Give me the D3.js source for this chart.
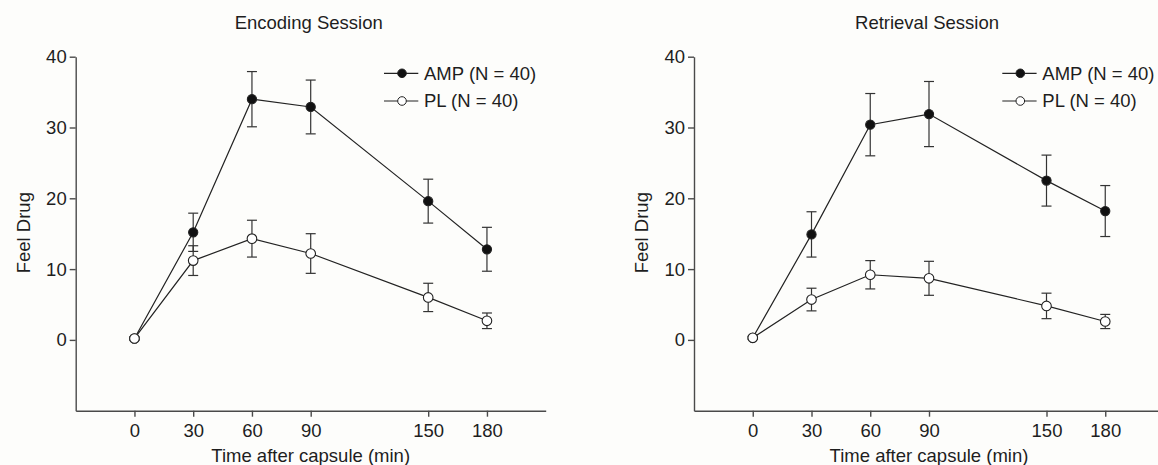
<html>
<head>
    <script src="https://d3js.org/d3.v7.min.js"></script>
    <style>
        html,body{
            margin: 0px;
            padding: 0px;
            background-color: #fdfdfb;
        }
        text {
            font-family: "Liberation Sans", Arial, sans-serif;
            fill: #1e1e1e;
        }
    </style>
</head>
<body>
    <div id="chart"></div>
    <script>
        // values (mean and SEM per time point)
        const times = [0, 30, 60, 90, 150, 180];
        const xTicks = [0, 30, 60, 90, 150, 180];
        const yTicks = [0, 10, 20, 30, 40];
        const panelTitles = ["Encoding Session", "Retrieval Session"];
        const seriesNames = ["AMP (N = 40)", "PL (N = 40)"];

        const encAmpMean = [0.2, 15.2, 34.0, 32.9, 19.6, 12.8];
        const encAmpSem  = [0.2, 2.7, 3.9, 3.8, 3.1, 3.1];
        const encPlMean  = [0.2, 11.2, 14.3, 12.2, 6.0, 2.7];
        const encPlSem   = [0.2, 2.1, 2.6, 2.8, 2.0, 1.1];

        const retAmpMean = [0.3, 14.9, 30.4, 31.9, 22.5, 18.2];
        const retAmpSem  = [0.2, 3.2, 4.4, 4.6, 3.6, 3.6];
        const retPlMean  = [0.3, 5.7, 9.2, 8.7, 4.8, 2.6];
        const retPlSem   = [0.2, 1.6, 2.0, 2.4, 1.8, 1.0];

        const W = 1158, H = 465;
        const width = 470, height = 354;
        const fontSize = 18.5;

        const svg = d3.select("#chart")
            .append("svg")
                .attr("width", W)
                .attr("height", H);

        const x = d3.scaleLinear().domain([-30, 210]).range([0, width]);
        const y = d3.scaleLinear().domain([-10, 40]).range([height, 0]);

        function drawPanel(left, title, ampMean, ampSem, plMean, plSem) {
            const g = svg.append("g")
                .attr("transform", "translate(" + left + ",56.7)");

            // axes
            const ay = g.append("g")
                .call(d3.axisLeft(y).tickValues(yTicks).tickSize(6).tickSizeOuter(0).tickPadding(3));
            const ax = g.append("g")
                .attr("transform", "translate(0," + height + ")")
                .call(d3.axisBottom(x).tickValues(xTicks).tickSize(6).tickSizeOuter(0).tickPadding(7));
            g.selectAll(".domain, .tick line")
                .attr("stroke", "#4a4a4a")
                .attr("stroke-width", 1.4);
            g.selectAll(".tick text")
                .attr("font-size", fontSize)
                .attr("font-family", "Liberation Sans, Arial, sans-serif")
                .attr("fill", "#1e1e1e");

            g.append("text")
                .attr("text-anchor", "middle")
                .attr("x", width / 2 - 2)
                .attr("y", -27.7)
                .attr("font-size", fontSize)
                .text(title);

            g.append("text")
                .attr("text-anchor", "middle")
                .attr("x", width / 2)
                .attr("y", height + 51.8)
                .attr("font-size", fontSize)
                .text("Time after capsule (min)");

            g.append("text")
                .attr("text-anchor", "middle")
                .attr("transform", "translate(-45.7," + (height / 2 - 1) + ") rotate(-90)")
                .attr("font-size", fontSize)
                .text("Feel Drug");

            const series = [
                { mean: ampMean, sem: ampSem, fill: "#111" },
                { mean: plMean, sem: plSem, fill: "#fff" }
            ];

            const line = d3.line()
                .x((d, i) => x(times[i]))
                .y(d => y(d));

            series.forEach(s => {
                g.append("path")
                    .datum(s.mean)
                    .attr("fill", "none")
                    .attr("stroke", "#222")
                    .attr("stroke-width", 1.2)
                    .attr("d", line);
            });

            series.forEach(s => {
                const pts = times.map((t, i) => ({ t: t, m: s.mean[i], e: s.sem[i] }));
                const eb = g.append("g")
                    .attr("stroke", "#333")
                    .attr("stroke-width", 1.2);
                eb.selectAll("line.v")
                    .data(pts)
                    .enter()
                    .append("line")
                        .attr("x1", d => x(d.t))
                        .attr("x2", d => x(d.t))
                        .attr("y1", d => y(d.m - d.e))
                        .attr("y2", d => y(d.m + d.e));
                eb.selectAll("line.top")
                    .data(pts)
                    .enter()
                    .append("line")
                        .attr("x1", d => x(d.t) - 5)
                        .attr("x2", d => x(d.t) + 5)
                        .attr("y1", d => y(d.m + d.e))
                        .attr("y2", d => y(d.m + d.e));
                eb.selectAll("line.bot")
                    .data(pts)
                    .enter()
                    .append("line")
                        .attr("x1", d => x(d.t) - 5)
                        .attr("x2", d => x(d.t) + 5)
                        .attr("y1", d => y(d.m - d.e))
                        .attr("y2", d => y(d.m - d.e));
            });

            series.forEach(s => {
                g.append("g")
                    .selectAll("circle")
                    .data(s.mean)
                    .enter()
                    .append("circle")
                        .attr("cx", (d, i) => x(times[i]))
                        .attr("cy", d => y(d))
                        .attr("r", s.fill === "#fff" ? 4.8 : 4.6)
                        .attr("stroke", "#222")
                        .attr("stroke-width", 1.1)
                        .style("fill", s.fill);
            });

            // legend
            const leg = g.append("g");
            series.forEach((s, i) => {
                const ly = 16.6 + i * 27.7;
                leg.append("line")
                    .attr("x1", 308.3).attr("x2", 342.6)
                    .attr("y1", ly).attr("y2", ly)
                    .attr("stroke", "#222")
                    .attr("stroke-width", 1.2);
                leg.append("circle")
                    .attr("cx", 326.3)
                    .attr("cy", ly)
                    .attr("r", 4.3)
                    .attr("stroke", "#222")
                    .attr("stroke-width", 1)
                    .style("fill", s.fill);
                leg.append("text")
                    .attr("x", 348.3)
                    .attr("y", ly)
                    .attr("dy", "0.35em")
                    .attr("font-size", fontSize)
                    .text(seriesNames[i]);
            });
        }

        drawPanel(75.7, panelTitles[0], encAmpMean, encAmpSem, encPlMean, encPlSem);
        drawPanel(694, panelTitles[1], retAmpMean, retAmpSem, retPlMean, retPlSem);
    </script>
</body>
</html>
